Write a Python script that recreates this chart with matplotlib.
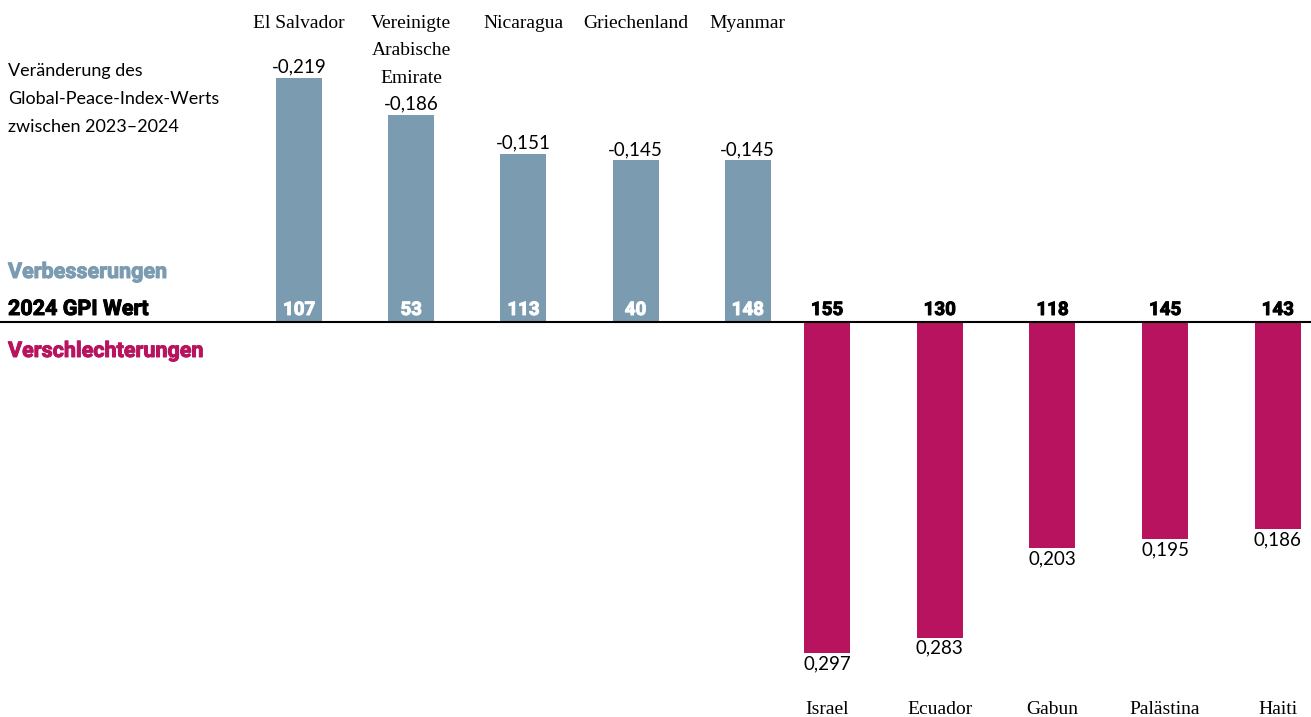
import numpy as np
import matplotlib
matplotlib.use('Agg')
import matplotlib.pyplot as plt
import matplotlib.patheffects as pe

# improvements (GPI score fell)
up_names = ['El Salvador', 'Vereinigte\nArabische\nEmirate', 'Nicaragua', 'Griechenland', 'Myanmar']
up_change = [-0.219, -0.186, -0.151, -0.145, -0.145]
up_rank = [107, 53, 113, 40, 148]

# deteriorations (GPI score rose)
down_names = ['Israel', 'Ecuador', 'Gabun', 'Palästina', 'Haiti']
down_change = [0.297, 0.283, 0.203, 0.195, 0.186]
down_rank = [155, 130, 118, 145, 143]

c_up = '#7b9bb0'
c_down = '#b8135e'
serif = 'Liberation Serif'
sans = 'Lato'
heavy = ['Roboto', 'DejaVu Sans']

W, H = 1311, 717
fig = plt.figure(figsize=(W / 100, H / 100), dpi=100)
ax = fig.add_axes([0, 0, 1, 1])
ax.axis('off')

# pixel x scale, value y scale (baseline at 322 px from top)
scale = 1115.0
base = 322
ax.set_xlim(0, W)
ax.set_ylim(-(H - base) / scale, base / scale)
px = 1 / scale

def fmt(v):
    return ('%.3f' % v).replace('.', ',')

# fake a black weight by stroking the glyphs in their own colour
def fat(c, w=0.7):
    return [pe.withStroke(linewidth=w, foreground=c)]

xu = 299 + 112.2 * np.arange(len(up_names))
xd = 827 + 112.7 * np.arange(len(down_names))
bw = 46

hu = [-v for v in up_change]
hd = [-v for v in down_change]
ax.bar(xu, hu, width=bw, color=c_up)
ax.bar(xd, hd, width=bw, color=c_down)
ax.axhline(0, color='black', lw=1.5)

for x, h, v, r, n in zip(xu, hu, up_change, up_rank, up_names):
    ax.text(x, h + 2 * px, fmt(v), ha='center', va='bottom', fontsize=13.5, family=sans)
    ax.text(x, 3 * px, str(r), ha='center', va='bottom', fontsize=13.5, family=heavy,
            fontweight='bold', color='white', path_effects=fat('white'))
    ax.text(x, (base - 15) * px, n, ha='center', va='top', fontsize=14, family=serif,
            linespacing=1.8)

for x, h, v, r, n in zip(xd, hd, down_change, down_rank, down_names):
    ax.text(x, h - 2 * px, fmt(v), ha='center', va='top', fontsize=13.5, family=sans)
    ax.text(x, 3 * px, str(r), ha='center', va='bottom', fontsize=13.5, family=heavy,
            fontweight='bold', color='black', path_effects=fat('black'))
    ax.text(x, -(709 - base) * px, n, ha='center', va='center', fontsize=14, family=serif)

ax.text(8, (base - 99) * px, 'Veränderung des\nGlobal-Peace-Index-Werts\nzwischen 2023–2024',
        ha='left', va='center', fontsize=13, family=sans, linespacing=1.95)
ax.text(8, 50 * px, 'Verbesserungen', ha='left', va='center', fontsize=15.5,
        family=heavy, fontweight='bold', color=c_up, path_effects=fat(c_up))
ax.text(8, 13 * px, '2024 GPI Wert', ha='left', va='center', fontsize=15.5,
        family=heavy, fontweight='bold', color='black', path_effects=fat('black'))
ax.text(8, -29 * px, 'Verschlechterungen', ha='left', va='center', fontsize=15.5,
        family=heavy, fontweight='bold', color=c_down, path_effects=fat(c_down))

fig.savefig('out.png', dpi=100)
